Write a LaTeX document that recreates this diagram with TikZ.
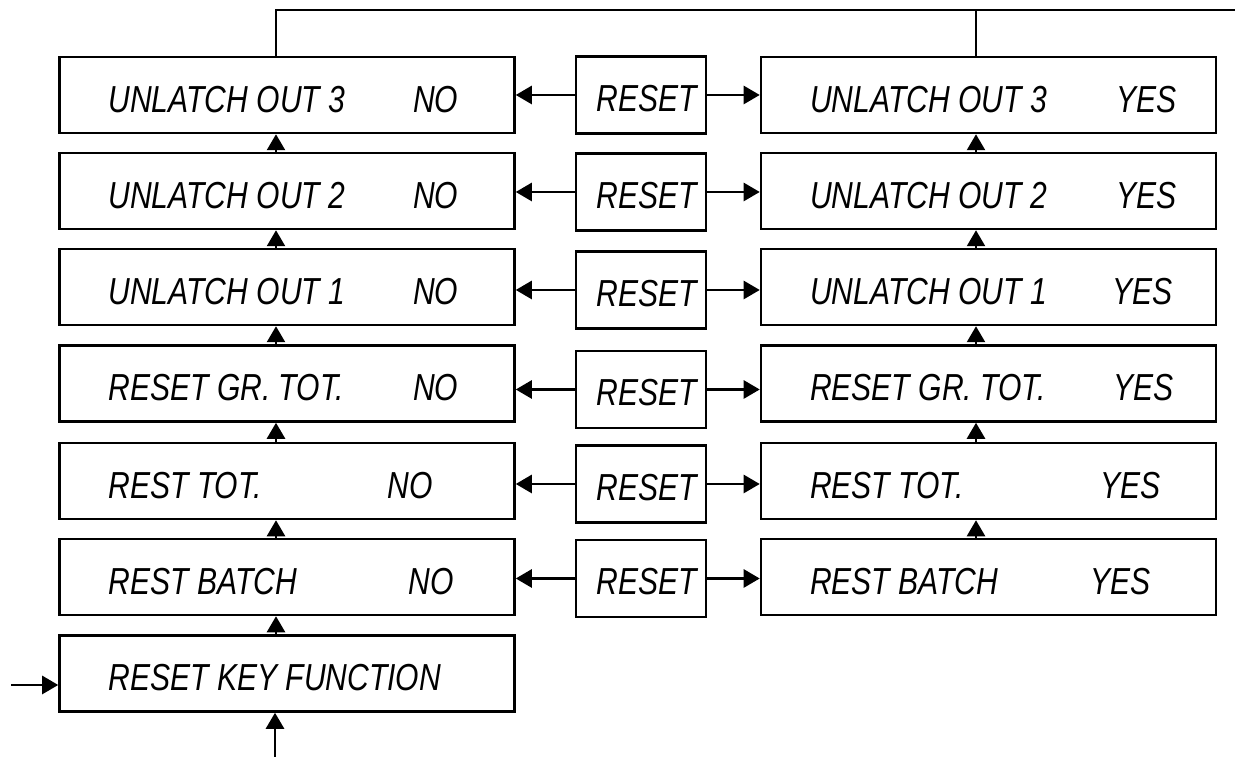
\documentclass[tikz,border=0pt]{standalone}
\usepackage{fontspec}
\newfontfamily\lcdfont{Liberation Sans}[FakeStretch=0.8]
\usetikzlibrary{arrows.meta, positioning}

\begin{document}
\begin{tikzpicture}[line width=0.72pt, >={Triangle[length=1.6mm,width=1.8mm]},
  disp/.style={draw, minimum width=4.55cm, minimum height=0.76cm, inner sep=0pt},
  keybox/.style={draw, minimum width=1.30cm, minimum height=0.77cm, inner sep=0pt, text height=9.2pt, text depth=0pt, font=\lcdfont\itshape\fontsize{10.7}{12}\selectfont},
  txt/.style={anchor=base west, inner sep=0pt, font=\lcdfont\itshape\fontsize{10.7}{12}\selectfont}]
\useasboundingbox (0,0) rectangle (12.35,7.57);

% NO column
\node[disp] (l1) at (2.87,6.62) {};
\node[disp] (l2) at (2.87,5.66) {};
\node[disp] (l3) at (2.87,4.70) {};
\node[disp] (l4) at (2.87,3.735) {};
\node[disp] (l5) at (2.87,2.76) {};
\node[disp] (l6) at (2.87,1.80) {};
\node[disp] (l7) at (2.87,0.835) {};
\node[txt] (l1n) at ([shift={(0.49,0.22)}]l1.south west) {UNLATCH OUT 3};
\node[txt] (l2n) at ([shift={(0.49,0.22)}]l2.south west) {UNLATCH OUT 2};
\node[txt] (l3n) at ([shift={(0.49,0.22)}]l3.south west) {UNLATCH OUT 1};
\node[txt] (l4n) at ([shift={(0.49,0.22)}]l4.south west) {RESET GR. TOT.};
\node[txt] (l5n) at ([shift={(0.49,0.22)}]l5.south west) {REST TOT.};
\node[txt] (l6n) at ([shift={(0.49,0.22)}]l6.south west) {REST BATCH};
\node[txt] (l7n) at ([shift={(0.49,0.22)}]l7.south west) {RESET KEY FUNCTION};
\node[txt] (l1v) at ([shift={(3.535,0.22)}]l1.south west) {NO};
\node[txt] (l2v) at ([shift={(3.535,0.22)}]l2.south west) {NO};
\node[txt] (l3v) at ([shift={(3.535,0.22)}]l3.south west) {NO};
\node[txt] (l4v) at ([shift={(3.535,0.22)}]l4.south west) {NO};
\node[txt] (l5v) at ([shift={(3.28,0.22)}]l5.south west) {NO};
\node[txt] (l6v) at ([shift={(3.49,0.22)}]l6.south west) {NO};

% RESET keys
\node[keybox] (k1) at (6.41,6.62) {\hspace*{1.2mm}RESET};
\node[keybox] (k2) at (6.41,5.65) {\hspace*{1.2mm}RESET};
\node[keybox] (k3) at (6.41,4.67) {\hspace*{1.2mm}RESET};
\node[keybox] (k4) at (6.41,3.675) {\hspace*{1.2mm}RESET};
\node[keybox] (k5) at (6.41,2.73) {\hspace*{1.2mm}RESET};
\node[keybox] (k6) at (6.41,1.785) {\hspace*{1.2mm}RESET};

% YES column
\node[disp] (r1) at (9.885,6.62) {};
\node[disp] (r2) at (9.885,5.66) {};
\node[disp] (r3) at (9.885,4.70) {};
\node[disp] (r4) at (9.885,3.735) {};
\node[disp] (r5) at (9.885,2.76) {};
\node[disp] (r6) at (9.885,1.80) {};
\node[txt] (r1n) at ([shift={(0.49,0.22)}]r1.south west) {UNLATCH OUT 3};
\node[txt] (r2n) at ([shift={(0.49,0.22)}]r2.south west) {UNLATCH OUT 2};
\node[txt] (r3n) at ([shift={(0.49,0.22)}]r3.south west) {UNLATCH OUT 1};
\node[txt] (r4n) at ([shift={(0.49,0.22)}]r4.south west) {RESET GR. TOT.};
\node[txt] (r5n) at ([shift={(0.49,0.22)}]r5.south west) {REST TOT.};
\node[txt] (r6n) at ([shift={(0.49,0.22)}]r6.south west) {REST BATCH};
\node[txt] (r1v) at ([shift={(3.55,0.22)}]r1.south west) {YES};
\node[txt] (r2v) at ([shift={(3.55,0.22)}]r2.south west) {YES};
\node[txt] (r3v) at ([shift={(3.51,0.22)}]r3.south west) {YES};
\node[txt] (r4v) at ([shift={(3.52,0.22)}]r4.south west) {YES};
\node[txt] (r5v) at ([shift={(3.39,0.22)}]r5.south west) {YES};
\node[txt] (r6v) at ([shift={(3.29,0.22)}]r6.south west) {YES};

% RESET arrows
\draw[->] (k1.west) -- (k1.west -| l1.east);
\draw[->] (k2.west) -- (k2.west -| l2.east);
\draw[->] (k3.west) -- (k3.west -| l3.east);
\draw[->] (k4.west) -- (k4.west -| l4.east);
\draw[->] (k5.west) -- (k5.west -| l5.east);
\draw[->] (k6.west) -- (k6.west -| l6.east);
\draw[->] (k1.east) -- (k1.east -| r1.west);
\draw[->] (k2.east) -- (k2.east -| r2.west);
\draw[->] (k3.east) -- (k3.east -| r3.west);
\draw[->] (k4.east) -- (k4.east -| r4.west);
\draw[->] (k5.east) -- (k5.east -| r5.west);
\draw[->] (k6.east) -- (k6.east -| r6.west);

% up arrows
\draw[->] ([xshift=-1.1mm]l2.north) -- ([xshift=-1.1mm]l1.south);
\draw[->] ([xshift=-1.1mm]l3.north) -- ([xshift=-1.1mm]l2.south);
\draw[->] ([xshift=-1.1mm]l4.north) -- ([xshift=-1.1mm]l3.south);
\draw[->] ([xshift=-1.1mm]l5.north) -- ([xshift=-1.1mm]l4.south);
\draw[->] ([xshift=-1.1mm]l6.north) -- ([xshift=-1.1mm]l5.south);
\draw[->] ([xshift=-1.1mm]l7.north) -- ([xshift=-1.1mm]l6.south);
\draw[->] ([xshift=-1.25mm]r2.north) -- ([xshift=-1.25mm]r1.south);
\draw[->] ([xshift=-1.25mm]r3.north) -- ([xshift=-1.25mm]r2.south);
\draw[->] ([xshift=-1.25mm]r4.north) -- ([xshift=-1.25mm]r3.south);
\draw[->] ([xshift=-1.25mm]r5.north) -- ([xshift=-1.25mm]r4.south);
\draw[->] ([xshift=-1.25mm]r6.north) -- ([xshift=-1.25mm]r5.south);

% entry and return
\coordinate (start) at (2.75,0);
\coordinate (in) at (0.11,0.72);
\coordinate (out) at (12.35,7.47);
\coordinate (ltap) at ([xshift=-1.1mm]l1.north);
\coordinate (rtap) at ([xshift=-1.25mm]r1.north);
\draw[->] (start) -- (start |- l7.south);
\draw[->] (in) -- (in -| l7.west);
\draw (ltap) |- (out);
\draw (rtap) -- (rtap |- out);
\end{tikzpicture}
\end{document}
